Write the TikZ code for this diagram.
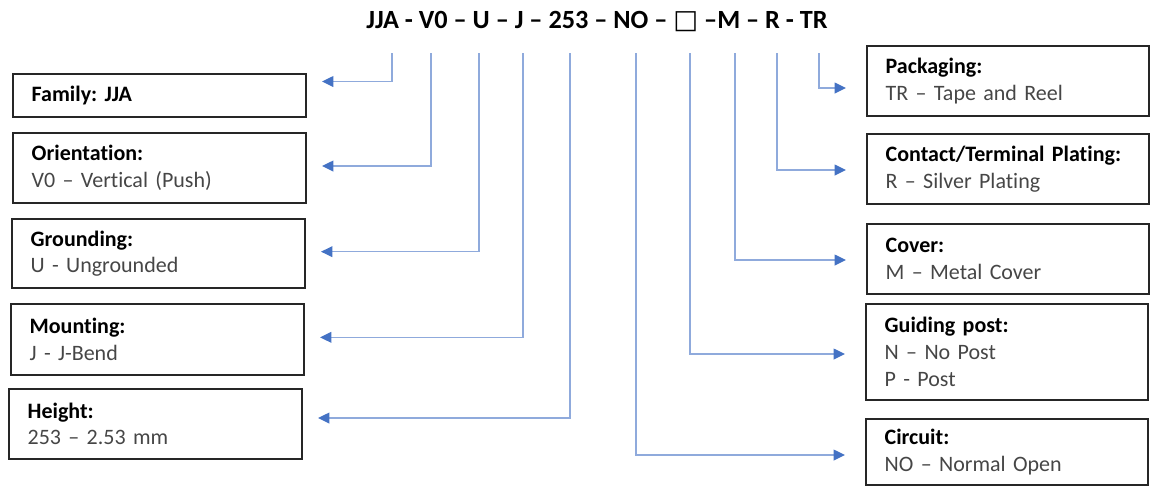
\documentclass[tikz,border=0pt]{standalone}
\usepackage{fontspec}
\setmainfont{Carlito}[Ligatures=NoCommon]
\newfontfamily\symfont{DejaVu Sans}
\usetikzlibrary{arrows.meta}

\definecolor{boxline}{RGB}{38,38,38}
\definecolor{connline}{RGB}{143,170,220}
\definecolor{conntip}{RGB}{68,114,196}
\definecolor{valtext}{RGB}{70,70,70}

\tikzset{
  codebox/.style={draw=boxline, line width=1.5pt, anchor=north west, align=left,
    inner xsep=14pt, inner ysep=2pt, font=\fontsize{16.5}{20}\selectfont},
  leftbox/.style={codebox, text width=191.75pt},
  rightbox/.style={codebox, text width=183.5pt},
  conn/.style={draw=connline, line width=1.1pt,
    -{Triangle[length=8.5pt,width=8pt,color=conntip]}},
}
\newcommand{\fieldname}[1]{\textbf{#1}}
\newcommand{\fieldval}[1]{{\color{valtext}#1}}

\begin{document}
\frenchspacing
\begin{tikzpicture}[x=0.75pt,y=-0.75pt]
\useasboundingbox (0,0) rectangle (1155,487);

% Part number
\node (partno) at (597,21) [inner sep=0pt, font=\bfseries\fontsize{19.7}{22}\selectfont]
  {JJA - V0 – U – J – 253 – NO – {\symfont\mdseries □} –M – R - TR};

% Tops of the connectors under each field
\coordinate (cJJA) at (392,53);
\coordinate (cV0)  at (431,53);
\coordinate (cU)   at (479,53);
\coordinate (cJ)   at (523,53);
\coordinate (c253) at (570,53);
\coordinate (cNO)  at (636,53);
\coordinate (cGP)  at (690,53);
\coordinate (cM)   at (735,53);
\coordinate (cR)   at (777,53);
\coordinate (cTR)  at (819,53);

% Left boxes
\node (fam) at (12,73)  [leftbox, minimum height=32.25pt] {\fieldname{Family: JJA}};
\node (ori) at (12,132) [leftbox, minimum height=52.5pt]  {\fieldname{Orientation:}\\\fieldval{V0 – Vertical (Push)}};
\node (gnd) at (11,218) [leftbox, minimum height=52pt]    {\fieldname{Grounding:}\\\fieldval{U - Ungrounded}};
\node (mnt) at (10,303) [leftbox, minimum height=53pt]    {\fieldname{Mounting:}\\\fieldval{J - J-Bend}};
\node (hgt) at (8,388)  [leftbox, minimum height=52.5pt]  {\fieldname{Height:}\\\fieldval{253 – 2.53 mm}};

% Right boxes
\node (pkg) at (866,45)  [rightbox, minimum height=52.5pt] {\fieldname{Packaging:}\\\fieldval{TR – Tape and Reel}};
\node (plt) at (866,133) [rightbox, minimum height=52.5pt] {\fieldname{Contact/Terminal Plating:}\\\fieldval{R – Silver Plating}};
\node (cov) at (866,223) [rightbox, minimum height=52.5pt] {\fieldname{Cover:}\\\fieldval{M – Metal Cover}};
\node (gdp) at (865,303) [rightbox, minimum height=72pt]   {\fieldname{Guiding post:}\\\fieldval{N – No Post}\\\fieldval{P - Post}};
\node (cir) at (865,418) [rightbox, minimum height=49.5pt] {\fieldname{Circuit:}\\\fieldval{NO – Normal Open}};

% Connectors
\draw[conn] (cJJA) |- ([shift={(15,-14)}]fam.east);
\draw[conn] (cV0)  |- ([shift={(15,-2)}]ori.east);
\draw[conn] (cU)   |- ([shift={(15,-2)}]gnd.east);
\draw[conn] (cJ)   |- ([shift={(15,-2)}]mnt.east);
\draw[conn] (c253) |- ([shift={(15,-6)}]hgt.east);

\draw[conn] (cTR) |- ([shift={(-20,7)}]pkg.west);
\draw[conn] (cR)  |- ([shift={(-20,1)}]plt.west);
\draw[conn] (cM)  |- ([shift={(-20,1)}]cov.west);
\draw[conn] (cGP) |- ([shift={(-20,2)}]gdp.west);
\draw[conn] (cNO) |- ([shift={(-20,3)}]cir.west);

\end{tikzpicture}
\end{document}
